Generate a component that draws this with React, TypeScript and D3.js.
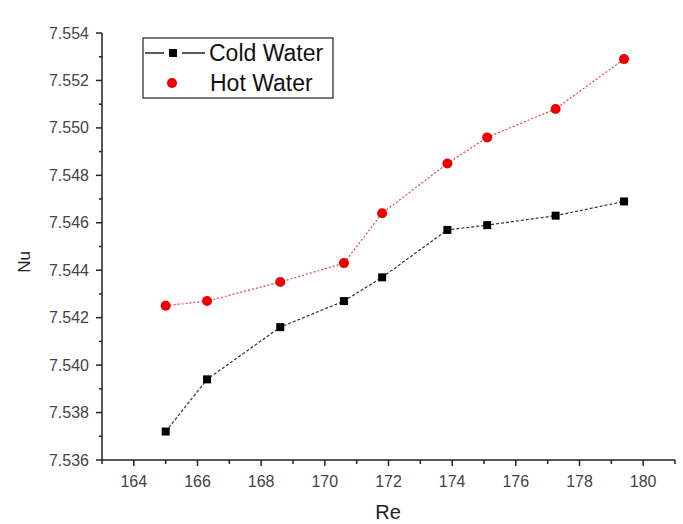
import React from "react";
import * as d3 from "d3";

const reynolds = [165.0, 166.3, 168.6, 170.6, 171.8, 173.85, 175.1, 177.25, 179.4];
const coldNu = [7.5372, 7.5394, 7.5416, 7.5427, 7.5437, 7.5457, 7.5459, 7.5463, 7.5469];
const hotNu = [7.5425, 7.5427, 7.5435, 7.5443, 7.5464, 7.5485, 7.5496, 7.5508, 7.5529];
const xTicks = [164, 166, 168, 170, 172, 174, 176, 178, 180];
const yTicks = [7.536, 7.538, 7.54, 7.542, 7.544, 7.546, 7.548, 7.55, 7.552, 7.554];
const seriesNames = ["Cold Water", "Hot Water"];

const W = 683;
const H = 524;
const FONT = "Arial, 'Liberation Sans', Helvetica, sans-serif";

export default function App() {
  const x = d3.scaleLinear().domain([163, 181]).range([102, 675]);
  const y = d3.scaleLinear().domain([7.536, 7.554]).range([460, 33]);
  const xMinor = d3.range(163, 182, 1).filter((v) => v % 2 === 1);
  const yMinor = d3.range(0, 9).map((i) => 7.537 + i * 0.002);

  const line = d3
    .line<number>()
    .x((_, i) => x(reynolds[i]))
    .y((d) => y(d));

  const axisColor = "#222";
  const ys = y.range();
  const xs = x.range();

  return (
    <svg
      width={W}
      height={H}
      style={{ position: "absolute", left: 0, top: 0, background: "#fff" }}
      fontFamily={FONT}
    >
      <rect width={W} height={H} fill="#fff" />
      {/* axes */}
      <line x1={xs[0]} x2={xs[0]} y1={ys[0]} y2={ys[1]} stroke={axisColor} strokeWidth={1.5} />
      <line x1={xs[0]} x2={xs[1]} y1={ys[0]} y2={ys[0]} stroke={axisColor} strokeWidth={1.5} />
      {yTicks.map((t) => (
        <g key={"y" + t}>
          <line x1={xs[0] - 6} x2={xs[0]} y1={y(t)} y2={y(t)} stroke={axisColor} strokeWidth={1.5} />
          <text x={89} y={y(t)} dy="0.35em" textAnchor="end" fontSize={16} fill="#444">
            {d3.format(".3f")(t)}
          </text>
        </g>
      ))}
      {yMinor.map((t) => (
        <line key={"ym" + t} x1={xs[0] - 3} x2={xs[0]} y1={y(t)} y2={y(t)} stroke={axisColor} strokeWidth={1.5} />
      ))}
      {xTicks.map((t) => (
        <g key={"x" + t}>
          <line x1={x(t)} x2={x(t)} y1={ys[0]} y2={ys[0] + 6} stroke={axisColor} strokeWidth={1.5} />
          <text x={x(t)} y={487} textAnchor="middle" fontSize={16} fill="#444">
            {t}
          </text>
        </g>
      ))}
      {xMinor.map((t) => (
        <line key={"xm" + t} x1={x(t)} x2={x(t)} y1={ys[0]} y2={ys[0] + 4} stroke={axisColor} strokeWidth={1.5} />
      ))}
      {/* axis titles */}
      <text x={388} y={519} textAnchor="middle" fontSize={20} fill="#222">
        Re
      </text>
      <text
        transform={`translate(30, 262) rotate(-90)`}
        textAnchor="middle"
        fontSize={17}
        fill="#222"
      >
        Nu
      </text>
      {/* lines */}
      <path d={line(coldNu) || ""} fill="none" stroke="#333" strokeWidth={1.2} strokeDasharray="3,2" />
      <path d={line(hotNu) || ""} fill="none" stroke="#d44" strokeWidth={1.2} strokeDasharray="2,2" />
      {coldNu.map((v, i) => (
        <rect key={"c" + i} x={x(reynolds[i]) - 4} y={y(v) - 4} width={8} height={8} fill="#000" />
      ))}
      {hotNu.map((v, i) => (
        <circle key={"h" + i} cx={x(reynolds[i])} cy={y(v)} r={5} fill="#e00" />
      ))}
      {/* legend */}
      <rect x={143} y={38} width={190} height={60} fill="#fff" stroke="#222" strokeWidth={1.2} />
      <line x1={145} x2={164} y1={53} y2={53} stroke="#000" strokeWidth={1.3} />
      <line x1={182} x2={205} y1={53} y2={53} stroke="#000" strokeWidth={1.3} />
      <rect x={169} y={49} width={8} height={8} fill="#000" />
      <text x={209} y={61} fontSize={23} fill="#111">
        {seriesNames[0]}
      </text>
      <circle cx={172} cy={83} r={5} fill="#e00" />
      <text x={210} y={91} fontSize={23} fill="#111">
        {seriesNames[1]}
      </text>
    </svg>
  );
}
